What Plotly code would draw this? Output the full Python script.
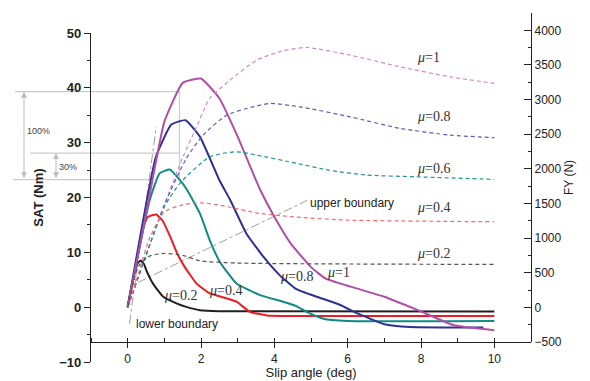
import plotly.graph_objects as go

# ---------------- data ----------------
# SAT (Nm) solid curves
sat_mu1_x = [0, 0.5, 1.0, 1.5, 2.0, 2.5, 3.0, 3.6, 4.0, 4.45, 5.0, 5.4, 6.1, 7.0, 7.9, 8.9, 10.0]
sat_mu1_y = [0, 17, 33.8, 40.9, 41.7, 38.1, 31.1, 21.6, 16.5, 11.6, 7.3, 5.2, 3.7, 1.9, -0.5, -3.3, -4.2]

sat_mu08_x = [0, 0.77, 1.19, 1.58, 1.97, 2.5, 2.8, 3.24, 3.7, 4.15, 4.6, 5.16, 5.8, 6.25, 7.0, 7.7, 9.7]
sat_mu08_y = [0, 27.4, 33.3, 34.1, 31.1, 23.2, 19.5, 13.4, 9.2, 5.8, 3.3, 1.9, 0.4, -1.1, -3.1, -3.6, -3.7]

sat_mu06_x = [0, 0.6, 0.87, 1.15, 1.42, 1.6, 1.97, 2.24, 2.51, 2.97, 3.61, 4.24, 4.6, 4.88, 5.34, 6.0, 10.0]
sat_mu06_y = [0, 19.5, 24.4, 25.1, 23.2, 21.6, 17.1, 12.2, 8.3, 4.3, 2.2, 1.0, 0.2, -0.85, -2.1, -2.5, -2.5]

sat_mu04_x = [0, 0.45, 0.56, 0.78, 0.95, 1.15, 1.35, 1.55, 1.88, 2.24, 2.7, 2.97, 3.33, 3.79, 4.5, 10.0]
sat_mu04_y = [0, 15, 16.5, 16.9, 15.8, 13.0, 9.8, 7.4, 4.3, 2.5, 1.6, 1.0, -0.85, -1.5, -1.6, -1.6]

sat_mu02_x = [0, 0.25, 0.35, 0.45, 0.51, 0.69, 0.97, 1.33, 1.6, 1.97, 2.5, 10.0]
sat_mu02_y = [0, 7.8, 8.5, 7.8, 6.7, 4.3, 1.9, 0.7, 0.05, -0.55, -0.75, -0.8]

# FY (N) dashed curves
fy_mu1_x = [0, 0.5, 1.0, 1.51, 1.88, 2.24, 2.79, 3.52, 4.2, 4.88, 6.07, 7.43, 8.8, 10.0]
fy_mu1_y = [0, 750, 1480, 2174, 2607, 3017, 3281, 3569, 3700, 3752, 3641, 3473, 3328, 3233]

fy_mu08_x = [0, 0.5, 1.0, 1.6, 2.06, 2.7, 3.42, 3.88, 4.7, 6.07, 7.43, 8.8, 10.0]
fy_mu08_y = [0, 750, 1480, 2150, 2487, 2776, 2895, 2944, 2895, 2751, 2584, 2487, 2450]

fy_mu06_x = [0, 0.5, 1.0, 1.42, 2.24, 2.97, 3.5, 4.61, 5.5, 6.52, 7.89, 10.0]
fy_mu06_y = [0, 750, 1450, 1790, 2174, 2246, 2200, 2079, 1980, 1910, 1885, 1848]

fy_mu04_x = [0, 0.3, 0.6, 1.0, 1.5, 2.0, 2.5, 3.6, 4.7, 6.0, 10.0]
fy_mu04_y = [0, 500, 1000, 1380, 1480, 1510, 1477, 1357, 1300, 1260, 1236]

fy_mu02_x = [0, 0.3, 0.6, 1.0, 1.5, 2.0, 3.0, 10.0]
fy_mu02_y = [0, 600, 740, 780, 750, 670, 640, 620]

# boundary guide lines (SAT scale)
upper_bound_x = [0.28, 4.9]
upper_bound_y = [4.5, 19.5]
lower_bound_x = [0.05, 0.78]
lower_bound_y = [-3.0, 32.9]

x_ticks = [0, 2, 4, 6, 8, 10]
sat_ticks = [-10, 0, 10, 20, 30, 40, 50]
fy_ticks = [-500, 0, 500, 1000, 1500, 2000, 2500, 3000, 3500, 4000]

# ---------------- figure ----------------
fig = go.Figure()

dash_pat = "4px,3px"
fy_series = [
    (fy_mu1_x, fy_mu1_y, "#d688cc"),
    (fy_mu08_x, fy_mu08_y, "#5a5db4"),
    (fy_mu06_x, fy_mu06_y, "#1f9593"),
    (fy_mu04_x, fy_mu04_y, "#f36b6b"),
    (fy_mu02_x, fy_mu02_y, "#555555"),
]
for xs, ys, c in fy_series:
    fig.add_trace(go.Scatter(x=xs, y=ys, mode="lines", xaxis="x", yaxis="y2",
                             line=dict(color=c, width=1.2, dash=dash_pat, shape="spline", smoothing=0.6),
                             showlegend=False, hoverinfo="skip"))

for xs, ys in [(upper_bound_x, upper_bound_y), (lower_bound_x, lower_bound_y)]:
    fig.add_trace(go.Scatter(x=xs, y=ys, mode="lines", xaxis="x", yaxis="y",
                             line=dict(color="#a0a0a0", width=1, dash="dashdot"),
                             showlegend=False, hoverinfo="skip"))

sat_series = [
    (sat_mu02_x, sat_mu02_y, "#231f20"),
    (sat_mu04_x, sat_mu04_y, "#ed1c24"),
    (sat_mu06_x, sat_mu06_y, "#0f8a84"),
    (sat_mu08_x, sat_mu08_y, "#2e3192"),
    (sat_mu1_x, sat_mu1_y, "#b04fa5"),
]
for xs, ys, c in sat_series:
    fig.add_trace(go.Scatter(x=xs, y=ys, mode="lines", xaxis="x", yaxis="y",
                             line=dict(color=c, width=2, shape="spline", smoothing=0.4),
                             showlegend=False, hoverinfo="skip"))

# ---------------- layout geometry ----------------
# the page body adds an 8px margin around the figure; compensate for it
OFF = 8
W, H = 590 - OFF, 381 - OFF
ML, MT = 91 - OFF, 13 - OFF
plot_w, plot_h = 440, 349
MR = W - ML - plot_w
MB = H - MT - plot_h
x_axis_pos = (362 - 342) / plot_h
y_top = (362 - 33) / plot_h
SAT_MIN, SAT_MAX = -10, 50


def sat_paper(v):
    return y_top * (v - SAT_MIN) / (SAT_MAX - SAT_MIN)


def px_paper(px):
    return (px - 91) / plot_w


grey = "#cccccc"
shapes = [
    dict(type="line", xref="paper", yref="paper", x0=px_paper(15), x1=px_paper(180),
         y0=sat_paper(39.3), y1=sat_paper(39.3), line=dict(color=grey, width=1.2), layer="below"),
    dict(type="line", xref="paper", yref="paper", x0=px_paper(30), x1=px_paper(179),
         y0=sat_paper(28.1), y1=sat_paper(28.1), line=dict(color=grey, width=1.2), layer="below"),
    dict(type="line", xref="paper", yref="paper", x0=px_paper(13), x1=px_paper(150),
         y0=sat_paper(23.25), y1=sat_paper(23.25), line=dict(color=grey, width=1.2), layer="below"),
    dict(type="line", xref="paper", yref="paper", x0=px_paper(179.5), x1=px_paper(179.5),
         y0=sat_paper(39.3), y1=sat_paper(23.25), line=dict(color=grey, width=1.2), layer="below"),
]

px_per_sat = plot_h * y_top / (SAT_MAX - SAT_MIN)
annotations = [
    dict(xref="paper", yref="paper", x=px_paper(24), y=sat_paper(39.3), ax=0,
         ay=(39.3 - 23.25) * px_per_sat, text="", showarrow=True, arrowside="end+start",
         arrowhead=2, arrowsize=1.2, arrowwidth=1, arrowcolor="#bdbdbd", standoff=0, startstandoff=0),
    dict(xref="paper", yref="paper", x=px_paper(56), y=sat_paper(28.1), ax=0,
         ay=(28.1 - 23.25) * px_per_sat, text="", showarrow=True, arrowside="end+start",
         arrowhead=2, arrowsize=1.2, arrowwidth=1, arrowcolor="#bdbdbd", standoff=0, startstandoff=0),
    dict(xref="paper", yref="paper", x=px_paper(25), y=sat_paper(32.1), text="100%",
         showarrow=False, xanchor="left", font=dict(size=9, color="#444", family="Liberation Sans")),
    dict(xref="paper", yref="paper", x=px_paper(57), y=sat_paper(25.5), text="30%",
         showarrow=False, xanchor="left", font=dict(size=9, color="#444", family="Liberation Sans")),
    dict(xref="x", yref="y", x=4.92, y=19.0, text="upper boundary", showarrow=False,
         xanchor="left", font=dict(size=12, color="#222", family="Liberation Sans")),
    dict(xref="x", yref="y", x=0.16, y=-3.1, text="lower boundary", showarrow=False,
         xanchor="left", font=dict(size=12, color="#222", family="Liberation Sans")),
]

mu_labels = [
    (7.84, 45.6, "1"), (7.84, 34.8, "0.8"), (7.84, 25.2, "0.6"), (7.84, 18.2, "0.4"), (7.84, 9.85, "0.2"),
    (0.93, 2.2, "0.2"), (2.16, 3.1, "0.4"), (4.10, 5.65, "0.8"), (5.38, 6.4, "1"),
]
for x, y, t in mu_labels:
    annotations.append(dict(xref="x", yref="y", x=x, y=y, text="<i>μ</i>=" + t, showarrow=False,
                            xanchor="left", font=dict(size=14, color="#333", family="Liberation Serif")))

axis_font = dict(family="Liberation Sans", size=12, color="#222")

fig.update_layout(
    width=W, height=H,
    margin=dict(l=ML, r=MR, t=MT, b=MB, autoexpand=False),
    paper_bgcolor="white", plot_bgcolor="rgba(0,0,0,0)",
    showlegend=False,
    shapes=shapes,
    annotations=annotations,
    xaxis=dict(domain=[0, 1], range=[-1, 11], anchor="free", position=x_axis_pos, automargin=False,
               showline=True, linecolor="#222", linewidth=1.2, showgrid=False, zeroline=False,
               tickmode="array", tickvals=x_ticks, ticks="outside", ticklen=5, tickcolor="#222",
               tickfont=axis_font,
               minor=dict(dtick=1, tick0=0, ticks="inside", ticklen=4, tickcolor="#222"),
               title=dict(text="Slip angle (deg)", font=dict(family="Liberation Sans", size=13, color="#222"),
                          standoff=2)),
    yaxis=dict(domain=[0, y_top], range=[SAT_MIN, SAT_MAX], anchor="x", side="left", automargin=False,
               showline=True, linecolor="#222", linewidth=1.2, showgrid=False, zeroline=False,
               tickmode="array", tickvals=sat_ticks, ticks="outside", ticklen=6, tickcolor="#222",
               tickfont=dict(family="Liberation Sans", size=13, color="#222", weight="bold"),
               minor=dict(dtick=5, tick0=0, ticks="outside", ticklen=3, tickcolor="#222"),
               title=dict(text="<b>SAT (Nm)</b>", font=dict(family="Liberation Sans", size=13, color="#222"),
                          standoff=12)),
    yaxis2=dict(domain=[x_axis_pos, 1], range=[-500, 4250], anchor="free", position=1, side="right",
                automargin=False,
                showline=True, linecolor="#222", linewidth=1.2, showgrid=False, zeroline=False,
                tickmode="array", tickvals=fy_ticks, ticks="inside", ticklen=7, tickcolor="#222",
                tickfont=axis_font,
                minor=dict(dtick=250, tick0=0, ticks="inside", ticklen=3, tickcolor="#222"),
                title=dict(text="FY (N)", font=dict(family="Liberation Sans", size=12, color="#222"),
                           standoff=2)),
)

fig.write_html("out.html")
